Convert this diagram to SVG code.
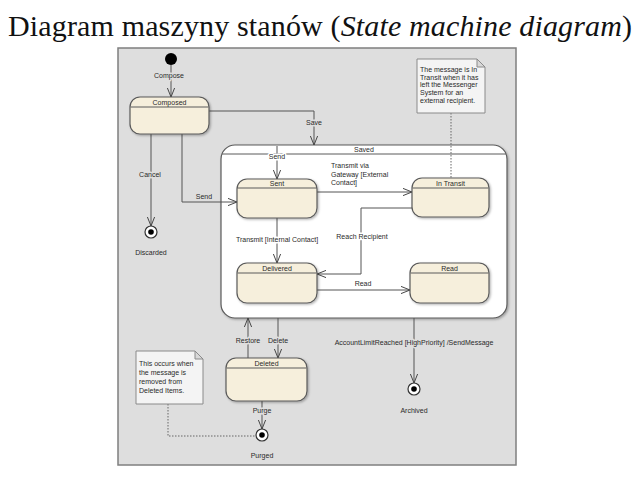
<svg xmlns="http://www.w3.org/2000/svg" width="640" height="480" viewBox="0 0 640 480">
<defs>
<style>
.t{font-family:"Liberation Sans",Arial,sans-serif;font-size:7px;fill:#2a2a2a}
.c{text-anchor:middle}
.lb{paint-order:stroke;stroke:#dedede;stroke-width:3px;stroke-linejoin:round}
.lw{paint-order:stroke;stroke:#ffffff;stroke-width:3px;stroke-linejoin:round}
.st{fill:#f6efdc;stroke:#5a5a5a;stroke-width:1.2}
.hd{stroke:#5a5a5a;stroke-width:1}
.ln{fill:none;stroke:#555;stroke-width:1}
.dt{fill:none;stroke:#666;stroke-width:1;stroke-dasharray:1.5 1.5}
.note{fill:#f4f4f4;stroke:#8a8a8a;stroke-width:1}
.fold{fill:#d8d8d8;stroke:#8a8a8a;stroke-width:1}
.fin{fill:#fff;stroke:#333;stroke-width:1.2}
</style>
<marker id="ar" viewBox="0 0 10 10" refX="10" refY="5" markerWidth="9" markerHeight="9" markerUnits="userSpaceOnUse" orient="auto">
<path d="M0,1 L10,5 L0,9" fill="none" stroke="#444" stroke-width="1.1"/>
</marker>
<filter id="sh" x="-10%" y="-10%" width="130%" height="130%">
<feDropShadow dx="1.2" dy="1.2" stdDeviation="0.8" flood-color="#000" flood-opacity="0.3"/>
</filter>
</defs>

<text x="8" y="36" font-family="'Liberation Serif','Times New Roman',serif" font-size="30" fill="#111" textLength="624">Diagram maszyny stanów (<tspan font-style="italic">State machine diagram</tspan>)</text>

<rect id="frame" x="118" y="48" width="398" height="417" fill="#dedede" stroke="#7f7f7f" stroke-width="1.5"/>

<g id="Saved">
<rect x="221" y="145" width="286" height="173" rx="14" fill="#ffffff" stroke="#5a5a5a" stroke-width="1.2" filter="url(#sh)"/>
<line class="hd" x1="222" y1="154" x2="506" y2="154"/>
<text class="t c" x="364" y="152">Saved</text>
</g>

<g id="connectors">
<path class="ln" d="M171,65 V97" marker-end="url(#ar)"/>
<path class="ln" d="M209,111 H314 V145" marker-end="url(#ar)"/>
<path class="ln" d="M151,134 V226" marker-end="url(#ar)"/>
<path class="ln" d="M182,134 V202 H237" marker-end="url(#ar)"/>
<path class="ln" d="M277,146 V179" marker-end="url(#ar)"/>
<path class="ln" d="M317,192 H412" marker-end="url(#ar)"/>
<path class="ln" d="M277,218 V263" marker-end="url(#ar)"/>
<path class="ln" d="M412,208 H361 V274 H317" marker-end="url(#ar)"/>
<path class="ln" d="M317,290 H410" marker-end="url(#ar)"/>
<path class="ln" d="M248,358 V318" marker-end="url(#ar)"/>
<path class="ln" d="M278,318 V358" marker-end="url(#ar)"/>
<path class="ln" d="M262,401 V429" marker-end="url(#ar)"/>
<path class="ln" d="M414,318 V383" marker-end="url(#ar)"/>
<path class="dt" d="M168,404 V436 H256"/>
<path class="dt" d="M451,113 V178"/>
<text class="t c lb" x="169" y="78">Compose</text>
<text class="t c lb" x="314" y="125">Save</text>
<text class="t c lb" x="150" y="177">Cancel</text>
<text class="t c lb" x="204" y="199">Send</text>
<text class="t c lw" x="277" y="159">Send</text>
<text class="t" x="331" y="168">Transmit via</text>
<text class="t" x="331" y="176.5">Gateway [External</text>
<text class="t" x="331" y="185">Contact]</text>
<text class="t c lw" x="277" y="242">Transmit [Internal Contact]</text>
<text class="t c lw" x="362" y="239">Reach Recipient</text>
<text class="t c" x="363" y="286">Read</text>
<text class="t c lb" x="248" y="343">Restore</text>
<text class="t c lb" x="278" y="343">Delete</text>
<text class="t c lb" x="262" y="413">Purge</text>
<text class="t c lb" x="414" y="345">AccountLimitReached [HighPriority] /SendMessage</text>
</g>

<g id="initial">
<circle cx="171" cy="59" r="6" fill="#000"/>
</g>

<g id="Composed">
<rect class="st" x="130" y="97" width="79" height="37" rx="10" filter="url(#sh)"/>
<line class="hd" x1="130.5" y1="107" x2="208.5" y2="107"/>
<text class="t c" x="169.5" y="105">Composed</text>
</g>

<g id="Sent">
<rect class="st" x="237" y="179" width="80" height="39" rx="10" filter="url(#sh)"/>
<line class="hd" x1="237.5" y1="188" x2="316.5" y2="188"/>
<text class="t c" x="277" y="186">Sent</text>
</g>

<g id="InTransit">
<rect class="st" x="412" y="178" width="77" height="39" rx="10" filter="url(#sh)"/>
<line class="hd" x1="412.5" y1="188" x2="488.5" y2="188"/>
<text class="t c" x="450.5" y="186">In Transit</text>
</g>

<g id="Delivered">
<rect class="st" x="237" y="263" width="80" height="40" rx="10" filter="url(#sh)"/>
<line class="hd" x1="237.5" y1="273" x2="316.5" y2="273"/>
<text class="t c" x="277" y="271">Delivered</text>
</g>

<g id="Read">
<rect class="st" x="410" y="263" width="79" height="40" rx="10" filter="url(#sh)"/>
<line class="hd" x1="410.5" y1="273" x2="488.5" y2="273"/>
<text class="t c" x="449.5" y="271">Read</text>
</g>

<g id="Deleted">
<rect class="st" x="226" y="358" width="81" height="43" rx="10" filter="url(#sh)"/>
<line class="hd" x1="226.5" y1="368" x2="306.5" y2="368"/>
<text class="t c" x="266.5" y="366">Deleted</text>
</g>

<g id="Discarded">
<circle class="fin" cx="151" cy="232" r="6"/>
<circle cx="151" cy="232" r="2.8" fill="#000"/>
<text class="t c" x="151" y="255">Discarded</text>
</g>

<g id="Purged">
<circle class="fin" cx="262" cy="435" r="6"/>
<circle cx="262" cy="435" r="2.8" fill="#000"/>
<text class="t c" x="262" y="458">Purged</text>
</g>

<g id="Archived">
<circle class="fin" cx="414" cy="389" r="6"/>
<circle cx="414" cy="389" r="2.8" fill="#000"/>
<text class="t c" x="414" y="413">Archived</text>
</g>

<g id="noteTransit">
<path class="note" d="M417,59 H477 L485,67 V113 H417 Z"/>
<path class="fold" d="M477,59 V67 H485 Z"/>
<text class="t" x="420" y="72">The message is In</text>
<text class="t" x="420" y="79.5">Transit when it has</text>
<text class="t" x="420" y="87">left the Messenger</text>
<text class="t" x="420" y="95">System for an</text>
<text class="t" x="420" y="102.5">external recipient.</text>
</g>

<g id="noteDeleted">
<path class="note" d="M136,351 H195 L203,359 V404 H136 Z"/>
<path class="fold" d="M195,351 V359 H203 Z"/>
<text class="t" x="139" y="366">This occurs when</text>
<text class="t" x="139" y="375">the message is</text>
<text class="t" x="139" y="384">removed from</text>
<text class="t" x="139" y="393">Deleted Items.</text>
</g>
</svg>
